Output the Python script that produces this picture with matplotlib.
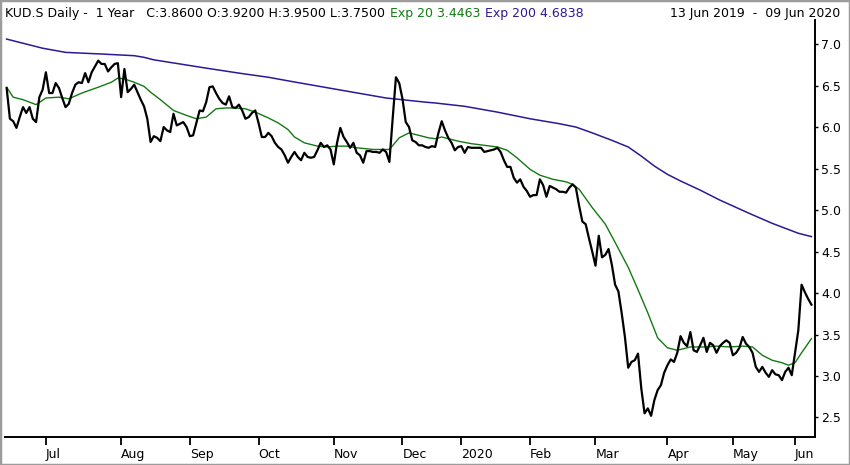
import matplotlib
matplotlib.use("Agg")
import matplotlib.pyplot as plt
from matplotlib.patches import Rectangle
import pandas as pd

# SIX trading calendar for the year shown
first_day = "2019-06-13"
last_day = "2020-06-09"
holidays = ["2019-08-01", "2019-12-24", "2019-12-25", "2019-12-26", "2019-12-31",
            "2020-01-01", "2020-01-02", "2020-04-10", "2020-04-13", "2020-05-01",
            "2020-05-21", "2020-06-01"]

# daily closes, one per session
close = [
    6.47, 6.10, 6.07, 5.99, 6.12, 6.24, 6.17, 6.24, 6.10, 6.06,
    6.36, 6.45, 6.66, 6.41, 6.41, 6.53, 6.47, 6.35, 6.24, 6.28,
    6.41, 6.51, 6.54, 6.53, 6.65, 6.54, 6.66, 6.73, 6.80, 6.76,
    6.76, 6.67, 6.72, 6.76, 6.77, 6.36, 6.70, 6.42, 6.46, 6.51,
    6.42, 6.33, 6.25, 6.10, 5.82, 5.89, 5.87, 5.83, 6.00, 5.96,
    5.94, 6.16, 6.02, 6.04, 6.06, 6.00, 5.89, 5.90, 6.05, 6.20,
    6.19, 6.30, 6.48, 6.49, 6.41, 6.34, 6.29, 6.27, 6.37, 6.24,
    6.23, 6.27, 6.20, 6.10, 6.12, 6.17, 6.20, 6.05, 5.88, 5.88,
    5.93, 5.89, 5.81, 5.76, 5.73, 5.66, 5.57, 5.64, 5.70, 5.64,
    5.60, 5.69, 5.64, 5.63, 5.64, 5.72, 5.81, 5.76, 5.78, 5.73,
    5.55, 5.81, 5.99, 5.88, 5.82, 5.75, 5.81, 5.69, 5.66, 5.57,
    5.71, 5.71, 5.70, 5.70, 5.69, 5.73, 5.70, 5.58, 6.10, 6.60,
    6.53, 6.34, 6.06, 6.00, 5.84, 5.82, 5.78, 5.78, 5.76, 5.75,
    5.77, 5.76, 5.93, 6.07, 5.96, 5.87, 5.81, 5.72, 5.76, 5.77,
    5.69, 5.76, 5.75, 5.75, 5.75, 5.75, 5.70, 5.71, 5.72, 5.73,
    5.75, 5.70, 5.60, 5.52, 5.52, 5.39, 5.33, 5.37, 5.28, 5.23,
    5.16, 5.18, 5.18, 5.37, 5.30, 5.16, 5.29, 5.27, 5.25, 5.22,
    5.22, 5.21, 5.27, 5.31, 5.27, 5.05, 4.86, 4.83, 4.66, 4.50,
    4.33, 4.69, 4.43, 4.46, 4.53, 4.34, 4.10, 4.02, 3.76, 3.47,
    3.10, 3.17, 3.19, 3.27, 2.85, 2.55, 2.61, 2.52, 2.71, 2.83,
    2.89, 3.04, 3.13, 3.20, 3.17, 3.28, 3.48, 3.40, 3.36, 3.53,
    3.31, 3.29, 3.37, 3.46, 3.29, 3.40, 3.37, 3.28, 3.36, 3.40,
    3.43, 3.40, 3.25, 3.28, 3.34, 3.47, 3.39, 3.35, 3.28, 3.11,
    3.05, 3.11, 3.04, 2.99, 3.07, 3.02, 3.01, 2.95, 3.05, 3.10,
    3.01, 3.28, 3.55, 4.10, 4.01, 3.93, 3.86,
]

# moving averages, read at a subset of sessions (session number, value)
ema20_day = [0, 2, 5, 9, 12, 16, 19, 23, 28, 32, 34, 36, 39, 42, 44, 47, 51, 55, 58,
             61, 64, 67, 70, 73, 76, 80, 83, 86, 88, 91, 95, 98, 101, 104, 107, 112,
             117, 120, 123, 126, 129, 131, 133, 138, 142, 146, 150, 153, 156, 160,
             163, 167, 171, 173, 175, 179, 183, 186, 190, 193, 196, 199, 202, 205,
             209, 213, 217, 221, 225, 228, 231, 234, 237, 239, 241, 243, 246]
ema20 = [6.48, 6.36, 6.33, 6.27, 6.35, 6.36, 6.34, 6.41, 6.48, 6.54, 6.59, 6.58, 6.54,
         6.49, 6.42, 6.33, 6.20, 6.14, 6.10, 6.12, 6.22, 6.23, 6.23, 6.22, 6.18, 6.11,
         6.05, 5.97, 5.88, 5.81, 5.77, 5.76, 5.77, 5.77, 5.75, 5.73, 5.73, 5.87, 5.93,
         5.90, 5.87, 5.86, 5.88, 5.83, 5.80, 5.78, 5.76, 5.72, 5.63, 5.49, 5.42, 5.37,
         5.34, 5.31, 5.25, 5.03, 4.83, 4.61, 4.31, 4.04, 3.76, 3.46, 3.34, 3.31, 3.35,
         3.35, 3.36, 3.35, 3.36, 3.35, 3.25, 3.19, 3.16, 3.13, 3.16, 3.28, 3.45]

ema200_day = [0, 11, 18, 29, 39, 42, 45, 61, 71, 80, 87, 100, 116, 128, 131, 140, 150,
              160, 169, 174, 179, 185, 190, 194, 198, 202, 206, 212, 218, 227, 234,
              242, 246]
ema200 = [7.06, 6.95, 6.90, 6.88, 6.86, 6.84, 6.81, 6.71, 6.65, 6.60, 6.55, 6.46, 6.35,
          6.30, 6.29, 6.25, 6.18, 6.10, 6.04, 6.00, 5.93, 5.84, 5.76, 5.65, 5.53, 5.43,
          5.35, 5.24, 5.12, 4.96, 4.84, 4.72, 4.68]

y_ticks = [2.5, 3.0, 3.5, 4.0, 4.5, 5.0, 5.5, 6.0, 6.5, 7.0]

header = "KUD.S Daily -  1 Year   C:3.8600 O:3.9200 H:3.9500 L:3.7500"
ema20_label = "Exp 20 3.4463"
ema200_label = "Exp 200 4.6838"
range_label = "13 Jun 2019  -  09 Jun 2020"

green = "#137a13"
purple = "#2e1896"

sessions = pd.bdate_range(first_day, last_day)
sessions = sessions[~sessions.isin(pd.to_datetime(holidays))]
n = min(len(sessions), len(close))
days = list(range(n))

# first session of every month gets a tick
month_pos = []
month_lab = []
for i in range(1, n):
    if sessions[i].month != sessions[i - 1].month:
        month_pos.append(i)
        month_lab.append(str(sessions[i].year) if sessions[i].month == 1 else sessions[i].strftime("%b"))

plt.rcParams['font.family'] = ['DejaVu Sans']
fs = 9
fig = plt.figure(figsize=(8.5, 4.65), dpi=100)
ax = fig.add_axes([5 / 850, 28 / 465, 810 / 850, 417 / 465])

ax.plot(ema200_day, ema200, color=purple, lw=1.1)
ax.plot(ema20_day, ema20, color=green, lw=1.0)
ax.plot(days, close[:n], color="black", lw=1.6)

ax.set_xlim(-0.5, 247.1)
ax.set_ylim(2.265, 7.29)

for s in ["left", "top"]:
    ax.spines[s].set_visible(False)
ax.spines["right"].set_linewidth(1.4)
ax.spines["bottom"].set_linewidth(1.4)

ax.yaxis.tick_right()
ax.set_yticks(y_ticks)
ax.set_yticklabels(["%.1f" % v for v in y_ticks])
ax.tick_params(axis="y", direction="out", length=2.5, width=1, pad=2, labelsize=fs)

ax.set_xticks(month_pos)
ax.set_xticklabels(month_lab, ha="left")
ax.tick_params(axis="x", direction="out", length=6, width=1.3, pad=2, labelsize=fs)

# header line, pieces placed one after another
yh = 1 - 13 / 465
t1 = fig.text(5 / 850, yh, header, fontsize=fs, color="black", va="center")
fig.canvas.draw()
r = fig.canvas.get_renderer()
x1 = t1.get_window_extent(r).x1 / fig.bbox.width
t2 = fig.text(x1 + 5 / 850, yh, ema20_label, fontsize=fs, color=green, va="center")
x2 = t2.get_window_extent(r).x1 / fig.bbox.width
fig.text(x2 + 5 / 850, yh, ema200_label, fontsize=fs, color=purple, va="center")
fig.text(840 / 850, yh, range_label, fontsize=fs, color="black", va="center", ha="right")

fig.patches.append(Rectangle((0, 0), 1, 1, transform=fig.transFigure, fill=False,
                             edgecolor="#9c9c9c", lw=2.5))

fig.savefig("out.png", dpi=100)
